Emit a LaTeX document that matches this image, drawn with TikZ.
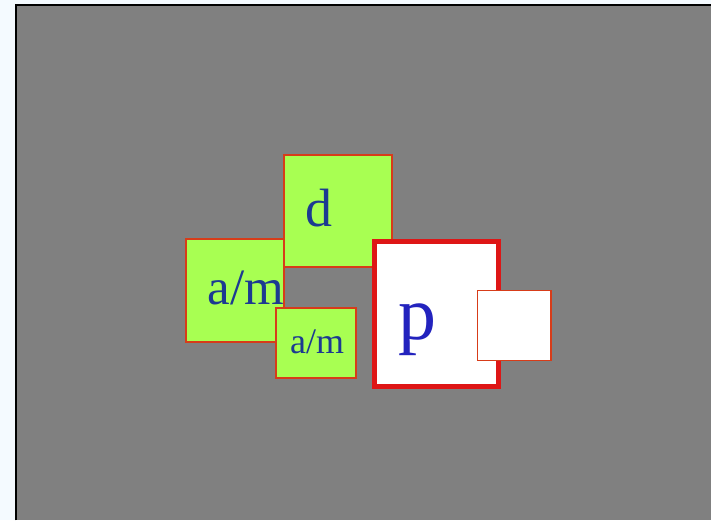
\documentclass[tikz,border=0pt]{standalone}
\usepackage{fontspec}
\setmainfont{Liberation Serif}
\definecolor{pagebg}{RGB}{244,250,255}
\definecolor{slate}{RGB}{128,128,128}
\definecolor{lime}{RGB}{168,255,82}
\definecolor{rimred}{RGB}{215,60,25}
\definecolor{boldred}{RGB}{222,22,22}
\definecolor{inkblue}{RGB}{28,58,145}
\definecolor{pblue}{RGB}{35,35,190}
\tikzset{
  greenbox/.style={draw=rimred, fill=lime, line width=2pt, inner sep=0pt},
  whitebox/.style={fill=white, inner sep=0pt},
  word/.style={inner sep=0pt, anchor=base, text=inkblue}
}
\begin{document}
\begin{tikzpicture}[x=1pt, y=-1pt]
% page and frame
\fill[pagebg] (0,0) rectangle (712,521);
\fill[slate] (16,5) rectangle (712,521);
\draw[black, line width=2pt] (16,521) -- (16,5) -- (712,5);
% green boxes
\node[greenbox, minimum width=98pt, minimum height=103pt] (bigam) at (235,290.5) {};
\node[greenbox, minimum width=109pt, minimum height=112pt] (dbox) at (338.5,211) {};
\node[word, font=\fontsize{54}{60}\selectfont] (dtext) at (319.5,227) {d};
\node[word, font=\fontsize{51}{56}\selectfont] (bigamtext) at (246,305) {a/m};
\node[greenbox, minimum width=80pt, minimum height=71pt] (smallam) at (316,343.5) {};
\node[word, font=\fontsize{36}{40}\selectfont] (smallamtext) at (317.5,354) {a/m};
% white boxes
\node[whitebox, draw=boldred, line width=5pt, minimum width=124pt, minimum height=146pt] (pbox) at (437.5,314.5) {};
\node[word, text=pblue, font=\fontsize{76}{84}\selectfont] (ptext) at (418,340) {p};
\node[whitebox, draw=rimred, line width=1.5pt, minimum width=74pt, minimum height=70pt] (side) at (515,326) {};
\end{tikzpicture}
\end{document}
